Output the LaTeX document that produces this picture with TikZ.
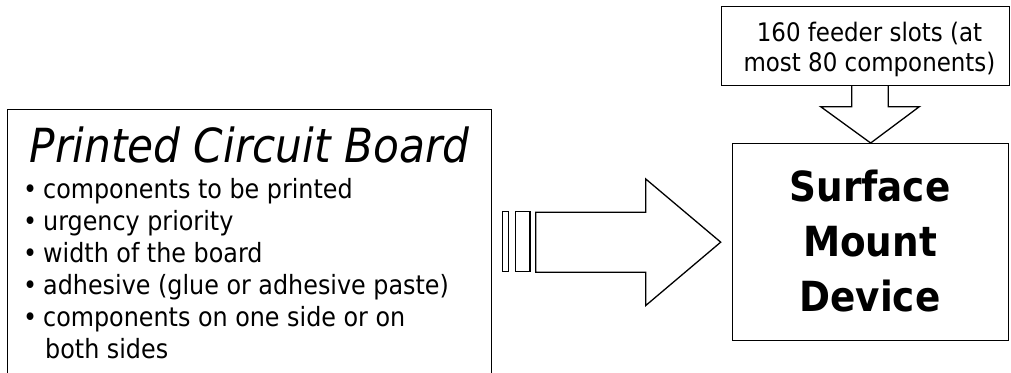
\documentclass[tikz,border=0pt]{standalone}
\usepackage{fontspec}
\setmainfont{DejaVu Sans Condensed}
\begin{document}
\begin{tikzpicture}[x=1pt,y=-1pt,
  box/.style={draw, line width=1.3pt, inner sep=0pt, fill=white},
  blk/.style={draw, line width=1.3pt, line join=miter},
  txt/.style={inner sep=0pt, font=\fontsize{26.5}{32}\selectfont},
  bul/.style={txt, anchor=base west},
  ttl/.style={inner sep=0pt, anchor=base, font=\fontsize{47}{54}\selectfont\itshape},
  smdtxt/.style={inner sep=0pt, anchor=base, font=\fontsize{41.5}{46}\selectfont\bfseries},
  feedtxt/.style={inner sep=0pt, anchor=base, font=\fontsize{25.5}{28}\selectfont}]
\useasboundingbox (0,0) rectangle (1011,372);
\clip (0,0) rectangle (1011,372);
% boxes
\node[box, anchor=north west, minimum width=484pt, minimum height=300pt] (pcb) at (7,109) {};
\node[box, anchor=north west, minimum width=276pt, minimum height=197pt] (smd) at (732,143) {};
\node[box, anchor=north west, minimum width=288pt, minimum height=79.3pt] (feed) at (720.7,5.7) {};
% texts
\node[ttl] (title) at (249.5,162.7) {Printed Circuit Board};
\node[bul] (i1) at (43,198) {\llap{\textbullet\hspace{6pt}}components to be printed};
\node[bul] (i2) at (43,230) {\llap{\textbullet\hspace{6pt}}urgency priority};
\node[bul] (i3) at (43,262) {\llap{\textbullet\hspace{6pt}}width of the board};
\node[bul] (i4) at (43,294) {\llap{\textbullet\hspace{6pt}}adhesive (glue or adhesive paste)};
\node[bul] (i5) at (43,326.5) {\llap{\textbullet\hspace{6pt}}components on one side or on};
\node[bul] (i6) at (45,358) {both sides};
\node[smdtxt] (s1) at (870,201.7) {Surface};
\node[smdtxt] (s2) at (870,256.5) {Mount};
\node[smdtxt] (s3) at (870,311.7) {Device};
\node[feedtxt] (f1) at (869.5,41.7) {160 feeder slots (at};
\node[feedtxt] (f2) at (869.5,71.7) {most 80 components)};
% big block arrow from pcb to smd
\draw[blk] ([xshift=-11.3pt]smd.west) coordinate (tip) -- ++(-75,-63.2) -- ++(0,33.3) -- ++(-110,0)
  -- ++(0,60) -- ++(110,0) -- ++(0,33.3) -- cycle;
\draw[blk] (502.3,211.7) rectangle (508.3,271.7);
\draw[blk] (515.7,211.7) rectangle (530,271.7);
% down block arrow from feed to smd
\draw[blk] (851.7,85) -- (851.7,106.7) -- (820.7,106.7) -- (smd.north) -- (919.3,106.7) -- (888.3,106.7) -- (888.3,85);
\end{tikzpicture}
\end{document}
